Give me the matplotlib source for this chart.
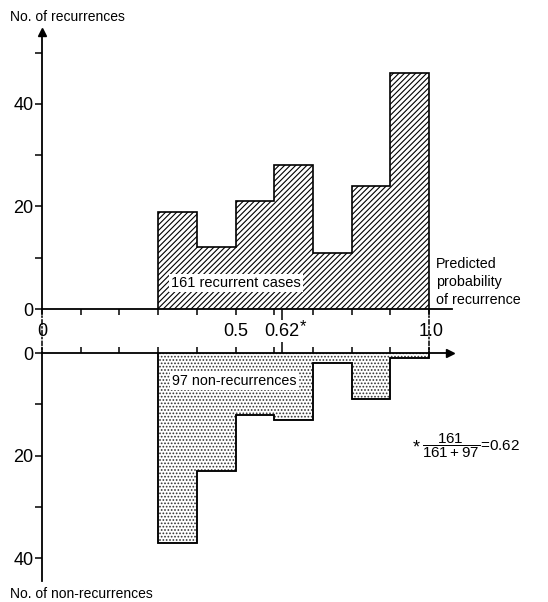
import numpy as np
import matplotlib.pyplot as plt
from matplotlib.patches import ConnectionPatch

plt.rcParams['font.family'] = ['Liberation Sans', 'DejaVu Sans']
plt.rcParams['mathtext.fontset'] = 'custom'
plt.rcParams['mathtext.rm'] = 'Liberation Sans'
plt.rcParams['mathtext.it'] = 'Liberation Sans'
plt.rcParams['hatch.linewidth'] = 0.8

# histogram data (predicted probability bins of width 0.1)
bin_edges = [0.3, 0.4, 0.5, 0.6, 0.7, 0.8, 0.9, 1.0]
recurrences = [19, 12, 21, 28, 11, 24, 46]       # 161 in total
non_recurrences = [37, 23, 12, 13, 2, 9, 1]      # 97 in total
x_ticks = np.round(np.arange(0, 1.01, 0.1), 1)
x_labels = {0.0: '0', 0.5: '0.5', 0.62: '0.62', 1.0: '1.0'}

# layout in pixels of a 548x602 figure
W, H = 548, 602
PX = 5.13                       # pixels per count
x0px, x1px = 42, 429            # where p=0 and p=1 sit
top_zero, bot_zero = 309, 353   # rows of the two zero lines
xlim = (-x0px / (x1px - x0px), (W - x0px) / (x1px - x0px))

fig = plt.figure(figsize=(W / 100, H / 100), dpi=100)
ax1 = fig.add_axes([0, (H - top_zero) / H, 1, top_zero / H])
ax2 = fig.add_axes([0, 0, 1, (H - bot_zero) / H])
ax1.set_xlim(xlim)
ax1.set_ylim(0, top_zero / PX)
ax2.set_xlim(xlim)
ax2.set_ylim((H - bot_zero) / PX, 0)
for ax in (ax1, ax2):
    ax.patch.set_visible(False)
    ax.spines['right'].set_visible(False)
    ax.spines['left'].set_position(('data', 0))
    ax.spines['left'].set_linewidth(1.3)

# bars
ax1.stairs(recurrences, bin_edges, fill=True, facecolor='white',
           edgecolor='black', hatch='//////', linewidth=1.2)
ax2.stairs(non_recurrences, bin_edges, fill=True, facecolor='white',
           edgecolor='#333333', hatch='.....', linewidth=1.2)
ax2.stairs(non_recurrences, bin_edges, fill=False, edgecolor='black', linewidth=1.2)

# upper axis
ax1.spines['top'].set_visible(False)
ax1.spines['bottom'].set_linewidth(1.3)
ax1.spines['bottom'].set_bounds(0, 1.06)
ax1.spines['left'].set_bounds(0, 54)
ax1.plot([0], [54], marker='^', ms=6, color='black', clip_on=False)
ax1.set_xticks(x_ticks)
ax1.set_xticks([0.62], minor=True)
ax1.set_yticks([0, 20, 40])
ax1.set_yticks([10, 30, 50], minor=True)
ax1.tick_params(axis='x', which='major', direction='out', length=4.5, width=1.1,
                labelbottom=False)
ax1.tick_params(axis='x', which='minor', direction='out', length=8, width=1.1)
ax1.tick_params(axis='y', which='both', direction='out', length=5, width=1.1,
                labelsize=13, pad=1)

# lower axis
ax2.spines['bottom'].set_visible(False)
ax2.spines['top'].set_linewidth(1.3)
ax2.spines['top'].set_bounds(0, 1.055)
ax2.spines['left'].set_bounds(0, 44.5)
ax2.plot([1.055], [0], marker='>', ms=6, color='black', clip_on=False)
ax2.xaxis.tick_top()
ax2.set_xticks(x_ticks)
ax2.set_xticks([0.62], minor=True)
ax2.set_yticks([0, 20, 40])
ax2.set_yticks([10, 30], minor=True)
ax2.tick_params(axis='x', which='major', direction='out', length=4.5, width=1.1,
                labeltop=False, labelbottom=False)
ax2.tick_params(axis='x', which='minor', direction='out', length=8, width=1.1)
ax2.tick_params(axis='y', which='both', direction='out', length=5, width=1.1,
                labelsize=13, pad=1)

# dash-dot links between the two zero lines
for xv in (0.0, 1.0):
    con = ConnectionPatch(xyA=(xv, 0), coordsA=ax1.transData,
                          xyB=(xv, 0), coordsB=ax2.transData,
                          linestyle=(0, (3, 1.5, 1, 1.5)), linewidth=1.1, color='black')
    fig.add_artist(con)

# probability labels between the axes
y_lab = -(331.5 - top_zero) / PX
for xv, lab in x_labels.items():
    ax1.text(xv + (0.005 if xv == 1.0 else 0), y_lab, lab, ha='center', va='center',
             fontsize=13, clip_on=False)
ax1.text(0.666, y_lab + 1.0, '*', ha='left', va='center', fontsize=12, clip_on=False)

# annotations
ax1.text(-0.083, 56.9, 'No. of recurrences', ha='left', va='center', fontsize=10)
ax2.text(-0.083, 46.9, 'No. of non-recurrences', ha='left', va='center', fontsize=10,
         clip_on=False)
ax1.text(0.333, 5.1, '161 recurrent cases', ha='left', va='center', fontsize=10.5,
         bbox=dict(facecolor='white', edgecolor='none', pad=1.5))
ax2.text(0.336, 5.4, '97 non-recurrences', ha='left', va='center', fontsize=10.3,
         bbox=dict(facecolor='white', edgecolor='none', pad=1.5))
ax1.text(1.018, 5.2, 'Predicted\nprobability\nof recurrence', ha='left', va='center',
         fontsize=10.3, linespacing=1.35)
ax2.text(0.958, 18.6, '*', ha='left', va='center', fontsize=13)
ax2.text(0.983, 18, r'$\dfrac{161}{161+97}$=0.62', ha='left', va='center', fontsize=11)

fig.savefig('out.png', dpi=100)
